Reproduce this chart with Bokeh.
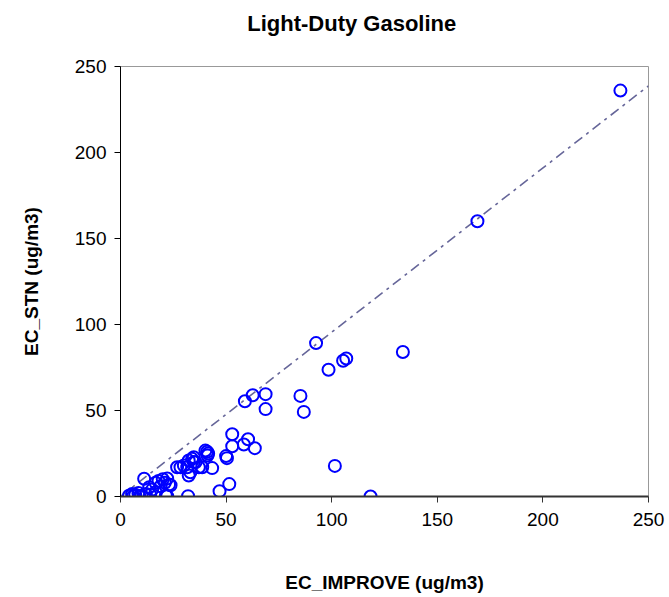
from bokeh.plotting import figure
from bokeh.embed import file_html
from bokeh.resources import INLINE
from bokeh.models import Range1d, FixedTicker, ColumnDataSource
from bokeh.layouts import column
from bokeh.core.properties import value

title_text = "Light-Duty Gasoline"
x_label = "EC_IMPROVE (ug/m3)"
y_label = "EC_STN (ug/m3)"
ticks = [0, 50, 100, 150, 200, 250]

ec_improve = [
    236.7, 169.0, 133.7, 92.6, 98.5, 105.4, 106.9, 85.2, 86.8, 101.5, 118.4,
    68.7, 62.6, 58.9, 68.7, 52.9, 60.4, 58.4, 52.9, 63.6, 50.0, 50.4, 43.4,
    41.0, 41.5, 41.2, 38.7, 51.5, 46.9, 37.1, 32.0, 21.5, 22.1,
    32.3, 33.9, 34.7, 35.5, 31.6, 33.1, 32.3, 30.0, 28.4, 26.8, 40.2, 34.7,
    11.2, 16.6, 18.0, 20.0, 21.0, 23.0, 19.0, 22.1, 23.7, 13.6, 15.0, 16.6,
    4.0, 5.5, 7.0, 8.5, 10.0, 12.0, 6.0, 9.0, 14.0,
]
ec_stn = [
    236.0, 160.0, 84.0, 89.2, 73.7, 78.9, 80.2, 58.5, 49.2, 17.8, 0.0,
    59.5, 58.9, 55.4, 50.8, 36.2, 33.3, 30.2, 29.2, 28.1, 23.5, 22.3, 16.5,
    26.0, 25.0, 23.8, 17.0, 7.2, 3.1, 17.0, 0.2, 0.6, 0.2,
    20.9, 21.9, 22.8, 19.9, 17.0, 14.1, 12.2, 18.0, 17.0, 17.0, 26.7, 20.0,
    10.3, 8.0, 9.0, 10.0, 8.0, 7.0, 6.0, 10.5, 6.5, 5.4, 4.0, 2.5,
    0.5, 1.5, 1.0, 2.0, 0.5, 1.5, 0.2, 0.0, 1.0,
]
fit_slope = 0.955
fit_x = [0, 250]
fit_y = [fit_slope * v for v in fit_x]

font = "Liberation Sans"
W, H_TITLE, H_MAIN = 669, 51, 546

# --- title strip (its frame is aligned with the main frame by the column layout) ---
tf = figure(width=W, height=H_TITLE, output_backend="svg", toolbar_location=None,
            x_range=Range1d(0, W), y_range=Range1d(0, H_TITLE),
            x_axis_type=None, y_axis_type=None, min_border=0)
tf.grid.visible = False
tf.outline_line_color = None
tf.text(x=[293], y=[H_TITLE - 23], text=[title_text], text_align="center",
        text_baseline="middle", text_font=value(font), text_font_size="22px",
        text_font_style="bold", text_color="#000000")

# --- main scatter ---
p = figure(width=W, height=H_MAIN, output_backend="svg", toolbar_location=None,
           x_range=Range1d(0, 250), y_range=Range1d(0, 250),
           min_border_left=120, min_border_right=21, min_border_top=15,
           min_border_bottom=101)

p.grid.visible = False
p.background_fill_color = "white"
p.border_fill_color = "white"
p.outline_line_color = "#999999"
p.outline_line_width = 1

xax = p.below[0]
yax = p.left[0]
for ax in (xax, yax):
    ax.ticker = FixedTicker(ticks=ticks)
    ax.minor_tick_line_color = None
    ax.major_tick_in = 0
    ax.major_tick_out = 6
    ax.major_label_text_font = font
    ax.major_label_text_font_size = "19px"
    ax.major_label_text_color = "#000000"
    ax.axis_label_text_font = font
    ax.axis_label_text_font_size = "19px"
    ax.axis_label_text_font_style = "bold"
    ax.axis_label_text_color = "#000000"

xax.axis_label = x_label
yax.axis_label = y_label
xax.axis_line_color = "#333333"
xax.axis_line_width = 2
xax.major_tick_line_color = "#333333"
yax.axis_line_color = "#000000"
yax.axis_line_width = 1
xax.major_label_standoff = 10
yax.major_label_standoff = 8
xax.axis_label_standoff = 43
yax.axis_label_standoff = 30

p.line(fit_x, fit_y, line_color="#666699", line_width=1.6, line_dash="10 5 3 5")

src = ColumnDataSource(dict(x=ec_improve, y=ec_stn))
p.scatter("x", "y", source=src, marker="circle", size=12, fill_color=None,
          line_color="#0000FF", line_width=2)

layout = column(tf, p, spacing=0)
open("out.html", "w").write(file_html(layout, INLINE))
